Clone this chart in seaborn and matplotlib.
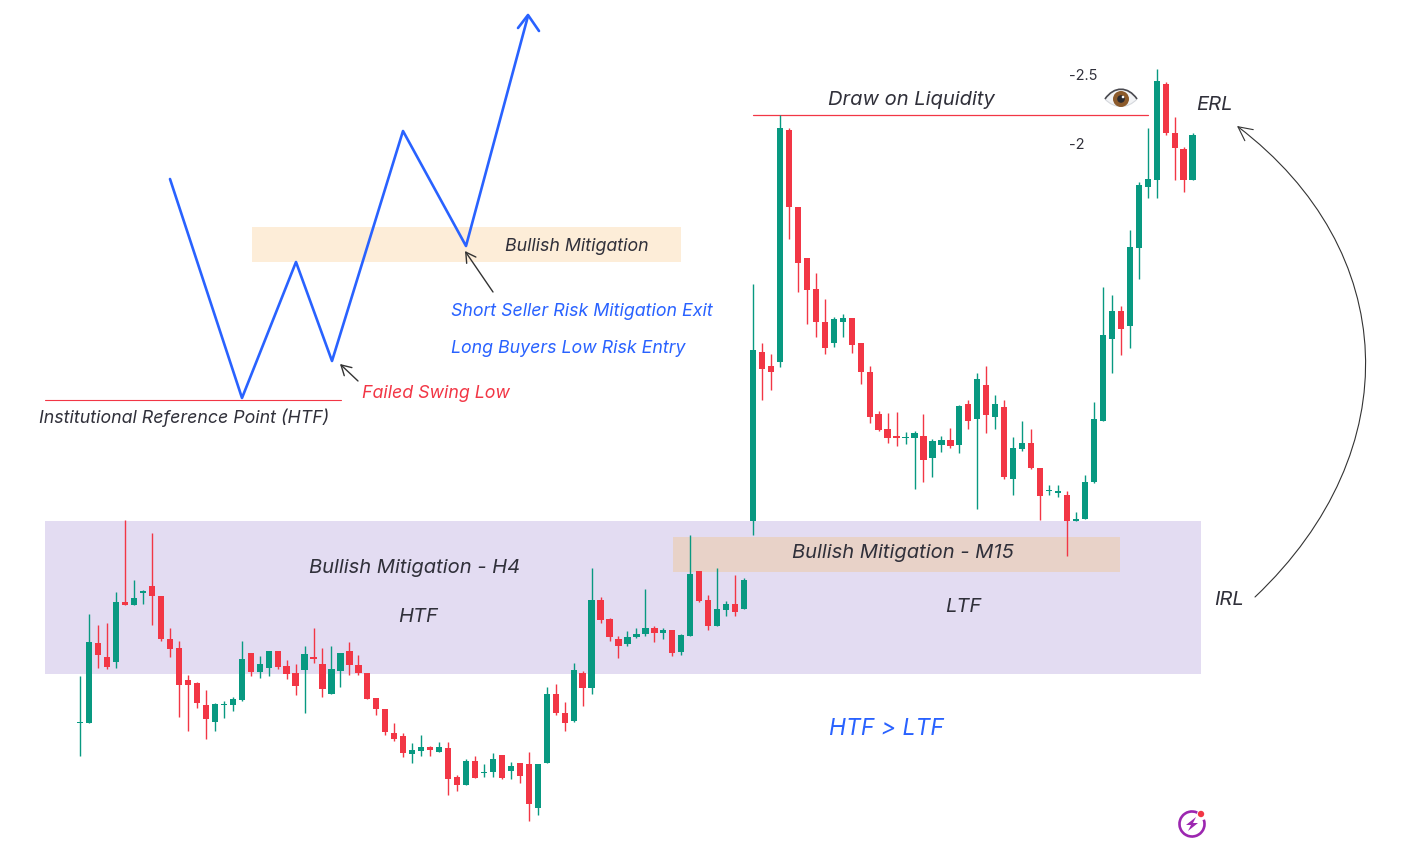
import matplotlib
matplotlib.use("Agg")
import matplotlib.pyplot as plt
from matplotlib.patches import Rectangle, PathPatch, Circle, Arc, Polygon, FancyArrowPatch
from matplotlib.path import Path
import numpy as np
import pandas as pd
import seaborn as sns

W, H = 1409, 841
GREEN = "#089981"
RED = "#F23645"
BLUE = "#2962FF"
DARK = "#30303A"

directions = ("GGRRGRGG" "RRRRRRR" "GGGG" "R" "GG" "RRR" "G" "RR" "GG" "RRRRRRR" "GG" "R" "G" "RR" "G" "R"
              "GG" "R" "G" "RR" "GG" "RR" "G" "R" "G" "RRR" "GGG" "R" "G" "R" "GG" "RR" "GG" "R" "GG" "RR" "G"
              "RRRRR" "GG" "RRRRRR" "GG" "R" "GG" "R" "G" "R" "G" "R" "G" "R" "GG" "RR" "GG" "R" "GGGGG" "R"
              "GGGG" "RRR" "G")
highs = [502, 688, 656, 662, 754, 970, 790, 760, 932, 742, 646, 608, 504, 484, 460, 420, 426, 438, 607, 572,
         561, 576, 576, 550, 538, 592, 646, 586, 592, 570, 604, 566, 510, 435, 402, 360, 330, 302, 325, 292,
         304, 304, 205, 252, 262, 238, 270, 265, 244, 240, 275, 238, 468, 477, 424, 540, 516, 827, 739, 676,
         622, 637, 646, 762, 651, 646, 639, 628, 925, 816, 745, 825, 726, 804, 796, 1678, 1500, 1467, 2186, 2145,
         1908, 1755, 1711, 1632, 1580, 1588, 1575, 1501, 1432, 1298, 1291, 1293, 1234, 1236, 1288, 1213, 1222, 1246, 1314, 1331,
         1410, 1432, 1346, 1330, 1218, 1266, 1243, 1126, 1074, 1074, 1057, 993, 1106, 1325, 1670, 1644, 1611, 1839, 1985, 2145,
         2323, 2285, 2178, 2090, 2130]
body_tops = [364, 604, 602, 560, 724, 723, 736, 756, 772, 742, 613, 586, 490, 480, 415, 418, 419, 432, 553, 571,
             539, 576, 576, 533, 510, 568, 559, 539, 522, 570, 576, 535, 510, 435, 402, 330, 322, 280, 290, 290,
             288, 286, 199, 248, 248, 215, 252, 265, 232, 240, 237, 238, 449, 449, 391, 520, 512, 730, 730, 672,
             612, 619, 627, 646, 646, 639, 639, 624, 809, 816, 730, 703, 718, 718, 790, 1480, 1474, 1431, 2147, 2140,
             1908, 1755, 1664, 1564, 1574, 1575, 1575, 1501, 1414, 1288, 1243, 1222, 1219, 1231, 1222, 1208, 1210, 1210, 1312, 1318,
             1392, 1375, 1318, 1309, 1185, 1201, 1201, 1126, 1060, 1057, 1045, 974, 1085, 1273, 1526, 1597, 1597, 1789, 1974, 1993,
             2287, 2278, 2130, 2083, 2124]
body_bottoms = [360, 360, 566, 530, 545, 716, 716, 750, 742, 613, 584, 476, 476, 422, 374, 364, 416, 416, 430, 513,
                515, 525, 529, 509, 472, 521, 554, 464, 449, 518, 535, 510, 434, 402, 335, 314, 270, 269, 277, 280,
                275, 194, 175, 175, 196, 210, 214, 196, 216, 203, 119, 105, 241, 390, 360, 367, 467, 467, 671, 619,
                592, 598, 618, 628, 631, 631, 572, 574, 622, 728, 651, 651, 700, 695, 704, 968, 1422, 1415, 1445, 1910,
                1740, 1660, 1565, 1487, 1502, 1564, 1496, 1415, 1278, 1241, 1216, 1216, 1217, 1216, 1150, 1156, 1196, 1191, 1194, 1267,
                1274, 1285, 1278, 1100, 1093, 1183, 1127, 1043, 1057, 1050, 967, 968, 974, 1083, 1268, 1514, 1544, 1553, 1787, 1970,
                1990, 2132, 2087, 1989, 1989]
lows = [262, 360, 527, 523, 527, 716, 716, 718, 656, 607, 560, 380, 338, 407, 314, 338, 376, 398, 427, 503,
        496, 503, 524, 493, 445, 392, 542, 440, 448, 470, 505, 505, 432, 386, 326, 308, 258, 242, 263, 262,
        273, 145, 156, 175, 196, 199, 199, 193, 194, 181, 67, 86, 241, 385, 338, 365, 412, 449, 662, 608,
        557, 592, 616, 623, 604, 614, 562, 565, 622, 724, 640, 651, 683, 682, 704, 925, 1330, 1361, 1430, 1814,
        1653, 1558, 1519, 1468, 1489, 1520, 1471, 1379, 1260, 1237, 1202, 1193, 1197, 1064, 1084, 1099, 1175, 1186, 1171, 1243,
        1004, 1230, 1244, 1094, 1044, 1176, 1124, 970, 1044, 1040, 862, 968, 974, 1080, 1268, 1412, 1466, 1487, 1694, 1937,
        1936, 2126, 1990, 1955, 1989]

path_x = [170, 242, 296, 332, 403, 466, 528]
path_y = [179, 398, 262, 361, 131, 246, 16]
head_x = [518, 528, 539]
head_y = [28, 15, 31]

sns.set_theme(style="white")
plt.rcParams["font.family"] = ["Inter", "DejaVu Sans"]

fig = plt.figure(figsize=(W / 100, H / 100), dpi=100, facecolor="white")
layout = fig.add_axes([0, 0, 1, 1], zorder=0)
layout.set_xlim(0, W)
layout.set_ylim(H, 0)
layout.axis("off")

price = fig.add_axes([0, 0, 1, 1], zorder=1)
price.patch.set_alpha(0)
price.axis("off")
x0, dx = 80.3, 8.97
price.set_xlim(-x0 / dx, (W - x0) / dx)
price.set_ylim(1000 - 3 * (H - 510), 1000 + 3 * 510)

# zones
layout.add_patch(Rectangle((45, 521), 1156, 153, fc="#E3DCF2", ec="none", zorder=1))
layout.add_patch(Rectangle((673, 537), 447, 35, fc="#E8D2C8", ec="none", zorder=2))
layout.add_patch(Rectangle((252, 227), 429, 35, fc="#FDEDD8", ec="none", zorder=1))

# candles
df = pd.DataFrame({"idx": np.arange(len(highs)), "high": highs, "low": lows, "top": body_tops,
                   "bottom": body_bottoms, "dir": list(directions)})
df["color"] = df["dir"].map({"G": GREEN, "R": RED})
price.vlines(df["idx"], df["low"], df["high"], colors=df["color"], linewidth=1.0, zorder=2)
price.bar(df["idx"], df["top"] - df["bottom"], bottom=df["bottom"], width=0.7,
          color=df["color"], linewidth=0, zorder=3)

# blue path
sns.lineplot(data=pd.DataFrame({"x": path_x, "y": path_y}), x="x", y="y", sort=False, estimator=None,
             color=BLUE, linewidth=1.9, ax=layout, zorder=4)
sns.lineplot(data=pd.DataFrame({"x": head_x, "y": head_y}), x="x", y="y", sort=False, estimator=None,
             color=BLUE, linewidth=1.9, ax=layout, zorder=4)
layout.set_xlabel("")
layout.set_ylabel("")
layout.set_xlim(0, W)
layout.set_ylim(H, 0)

# horizontal levels
layout.plot([45, 341], [400, 400], color=RED, lw=0.8, zorder=3)
layout.plot([753, 1148], [115, 115], color=RED, lw=0.9, zorder=3)


def label(x, y, s, color=DARK, size=12.8, style="italic", ha="left"):
    layout.text(x, y, s, color=color, fontsize=size, style=style, ha=ha, va="center", zorder=6)


label(505, 246, "Bullish Mitigation")
label(451, 312, "Short Seller Risk Mitigation Exit", BLUE)
label(451, 348, "Long Buyers Low Risk Entry", BLUE)
label(362, 393, "Failed Swing Low", RED)
label(39, 418, "Institutional Reference Point (HTF)")
label(828, 100, "Draw on Liquidity", size=14.5)
label(309, 568, "Bullish Mitigation - H4", size=14.5)
label(398, 617, "HTF", size=14.5)
label(945, 607, "LTF", size=14.5)
label(792, 553, "Bullish Mitigation - M15", size=14.5)
label(1214, 600, "IRL", size=14.5)
label(1196, 105, "ERL", size=14.5)
label(829, 729, "HTF > LTF", BLUE, size=16.5)
label(1069, 76, "-2.5", size=10.5, style="normal")
label(1069, 145, "-2", size=10.5, style="normal")

# pointer arrows
for start, end in [((358, 381), (340, 364)), ((493, 292), (465, 251))]:
    layout.add_patch(FancyArrowPatch(start, end, arrowstyle="->,head_length=7,head_width=4",
                                     mutation_scale=1, color="#333333", lw=1.0, zorder=6,
                                     shrinkA=0, shrinkB=0))
curve = Path([(1255, 597), (1410, 450), (1400, 250), (1237, 126)],
             [Path.MOVETO, Path.CURVE4, Path.CURVE4, Path.CURVE4])
layout.add_patch(FancyArrowPatch(path=curve, arrowstyle="->,head_length=10,head_width=5",
                                 mutation_scale=1, color="#333333", lw=0.8, zorder=6))

# eye icon
ex, ey = 1121, 98
almond = Path([(ex - 16, ey + 1), (ex - 7, ey - 12), (ex + 7, ey - 12), (ex + 16, ey + 1),
               (ex + 7, ey + 11), (ex - 7, ey + 11), (ex - 16, ey + 1)],
              [Path.MOVETO, Path.CURVE4, Path.CURVE4, Path.CURVE4, Path.CURVE4, Path.CURVE4, Path.CURVE4])
layout.add_patch(PathPatch(almond, fc="#F2F3F5", ec="#D5D8DD", lw=0.8, zorder=6))
lid = Path([(ex - 16, ey + 1), (ex - 7, ey - 12), (ex + 7, ey - 12), (ex + 16, ey + 1)],
           [Path.MOVETO, Path.CURVE4, Path.CURVE4, Path.CURVE4])
layout.add_patch(PathPatch(lid, fc="none", ec="#4A4A50", lw=1.2, zorder=7))
layout.add_patch(Circle((ex, ey + 1), 8, fc="#8B5A2B", ec="none", zorder=8))
layout.add_patch(Circle((ex, ey + 1), 3.8, fc="#2B2B30", ec="none", zorder=9))
layout.add_patch(Circle((ex + 2, ey - 1), 1.3, fc="white", ec="none", zorder=10))

# logo
lx, ly = 1192, 824
layout.add_patch(Arc((lx, ly), 25, 25, theta1=-20, theta2=295, color="#9C27B0", lw=1.9, zorder=6))
layout.add_patch(Polygon([(lx + 4, ly - 7), (lx - 6, ly + 1), (lx - 1, ly + 1), (lx - 4, ly + 7),
                          (lx + 6, ly - 1), (lx + 1, ly - 1)], closed=True, fc="#9C27B0", ec="none", zorder=6))
layout.add_patch(Circle((1201, 814), 3.2, fc=RED, ec="none", zorder=7))

fig.savefig("out.png", dpi=100)
